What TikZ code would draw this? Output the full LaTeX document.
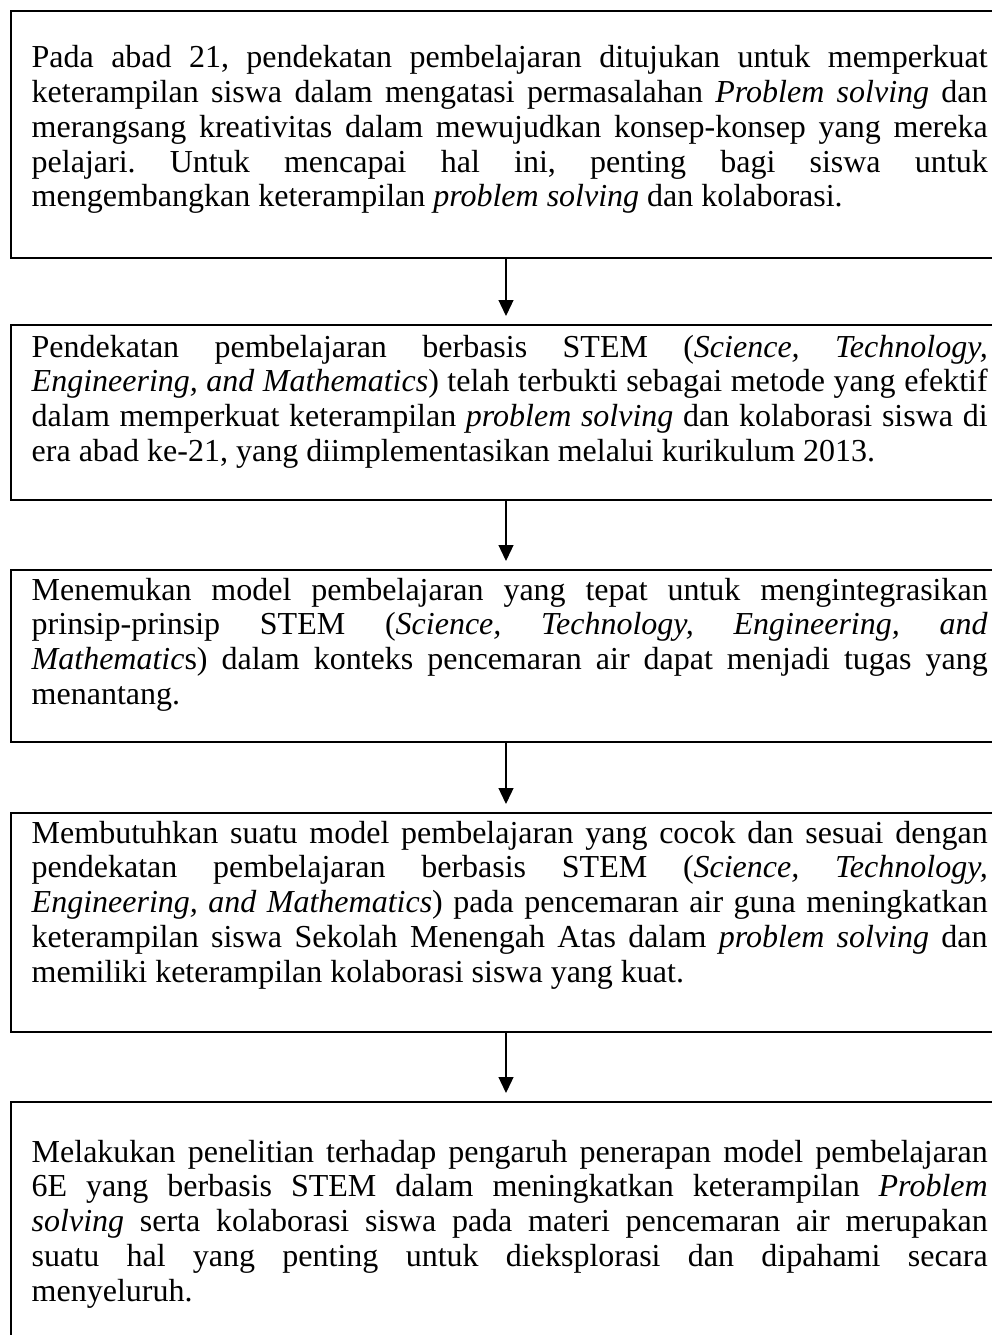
\documentclass[tikz,border=0pt]{standalone}
\usepackage{fontspec}
\setmainfont{Liberation Serif}
\usetikzlibrary{arrows.meta}
\tikzset{
  flowbox/.style={draw=black, line width=1.8pt, rectangle, inner sep=0pt, anchor=north west, minimum width=999pt},
  flowtext/.style={inner sep=0pt, anchor=base west},
  flowarrow/.style={draw=black, line width=1.3pt, -{Triangle[length=16pt,width=15pt]}, shorten >=8pt},
}
\newcommand{\fbtext}[1]{\parbox[t]{956pt}{\fontsize{32pt}{34.75pt}\selectfont\frenchspacing\parindent=0pt\tolerance=10000\hyphenpenalty=10000\emergencystretch=0pt #1}}
\begin{document}
\begin{tikzpicture}[x=1pt,y=1pt]
\useasboundingbox (0,0) rectangle (992,-1335);
% boxes
\node[flowbox, minimum height=247pt] (b1) at (10,-10) {};
\node[flowbox, minimum height=175pt] (b2) at (10,-324) {};
\node[flowbox, minimum height=172pt] (b3) at (10,-569) {};
\node[flowbox, minimum height=219pt] (b4) at (10,-812) {};
\node[flowbox, minimum height=260pt] (b5) at (10,-1101) {};
% texts
\node[flowtext] (t1) at (31.5,-68) {\fbtext{Pada abad 21, pendekatan pembelajaran ditujukan untuk memperkuat\linebreak
keterampilan siswa dalam mengatasi permasalahan \textit{Problem solving} dan\linebreak
merangsang kreativitas dalam mewujudkan konsep-konsep yang mereka\linebreak
pelajari. Untuk mencapai hal ini, penting bagi siswa untuk\linebreak
mengembangkan keterampilan \textit{problem solving} dan kolaborasi.}};
\node[flowtext] (t2) at (31.5,-357) {\fbtext{Pendekatan pembelajaran berbasis STEM (\textit{Science, Technology,}\linebreak
\textit{Engineering, and Mathematics}) telah terbukti sebagai metode yang efektif\linebreak
dalam memperkuat keterampilan \textit{problem solving} dan kolaborasi siswa di\linebreak
era abad ke-21, yang diimplementasikan melalui kurikulum 2013.}};
\node[flowtext] (t3) at (31.5,-600) {\fbtext{Menemukan model pembelajaran yang tepat untuk mengintegrasikan\linebreak
prinsip-prinsip STEM (\textit{Science, Technology, Engineering, and}\linebreak
\textit{Mathematic}s) dalam konteks pencemaran air dapat menjadi tugas yang\linebreak
menantang.}};
\node[flowtext] (t4) at (31.5,-843) {\fbtext{Membutuhkan suatu model pembelajaran yang cocok dan sesuai dengan\linebreak
pendekatan pembelajaran berbasis STEM (\textit{Science, Technology,}\linebreak
\textit{Engineering, and Mathematics}) pada pencemaran air guna meningkatkan\linebreak
keterampilan siswa Sekolah Menengah Atas dalam \textit{problem solving} dan\linebreak
memiliki keterampilan kolaborasi siswa yang kuat.}};
\node[flowtext] (t5) at (31.5,-1162) {\fbtext{Melakukan penelitian terhadap pengaruh penerapan model pembelajaran\linebreak
6E yang berbasis STEM dalam meningkatkan keterampilan \textit{Problem}\linebreak
\textit{solving} serta kolaborasi siswa pada materi pencemaran air merupakan\linebreak
suatu hal yang penting untuk dieksplorasi dan dipahami secara\linebreak
menyeluruh.}};
% arrows
\coordinate (ax) at (506,0);
\draw[flowarrow] (b1.south -| ax) -- (b2.north -| ax);
\draw[flowarrow] (b2.south -| ax) -- (b3.north -| ax);
\draw[flowarrow] (b3.south -| ax) -- (b4.north -| ax);
\draw[flowarrow] (b4.south -| ax) -- (b5.north -| ax);
\end{tikzpicture}
\end{document}
